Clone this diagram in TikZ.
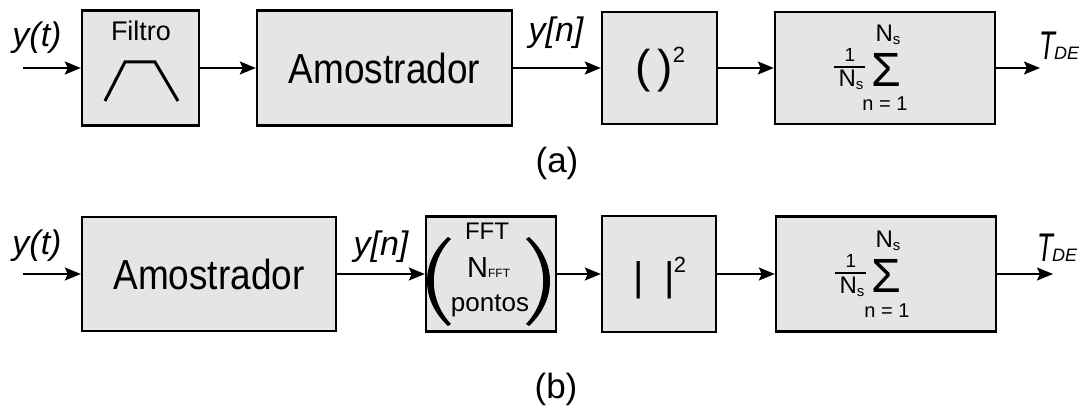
\documentclass[tikz,border=0pt]{standalone}
\usepackage{fontspec}
\setmainfont{Liberation Sans}
\usetikzlibrary{arrows.meta}
\newcommand{\myfs}[1]{\fontsize{#1}{#1}\selectfont}
\newcommand{\myNs}{{\myfs{24}N\raisebox{-3pt}{\myfs{15}s}}}
\begin{document}
\begin{tikzpicture}[x=1pt,y=-1pt,
  blk/.style={draw=black, line width=2.4pt, fill=black!10, inner sep=0pt},
  arr/.style={line width=2pt, -{Stealth[length=16pt,width=13pt,inset=3pt]}},
  txt/.style={inner sep=0pt, anchor=center},
  lbl/.style={inner sep=0pt, anchor=center, font=\myfs{34}\itshape}]
\useasboundingbox[fill=white] (0,0) rectangle (1087,411);

% ---------------- row (a) ----------------
\node[blk, minimum width=117pt, minimum height=115pt] (filt) at (140.5,68) {};
\node[txt, font=\myfs{27}] (filtt) at (141,31) {Filtro};
\draw[line width=3pt] (105,101) -- (125,62) -- (155,62) -- (178,101);

\node[blk, minimum width=255pt, minimum height=115pt, font=\myfs{42}] (amoA) at (384.5,68) {\scalebox{0.88}[1]{Amostrador}};

\node[blk, minimum width=115pt, minimum height=112pt] (sqA) at (659.5,68) {};
\node[txt, font=\myfs{46}] (sqAl) at (643,71) {(};
\node[txt, font=\myfs{46}] (sqAr) at (665,71) {)};
\node[txt, font=\myfs{22}] (sqA2) at (679,55) {2};

\node[blk, minimum width=220pt, minimum height=112pt] (sumA) at (885,68) {};
\node[txt, font=\myfs{19}] (oneA) at (850,55) {1};
\draw[line width=1.8pt] (834,67) -- (865,67);
\node[txt] (nsA) at (851,80) {\myNs};
\node[txt, font=\myfs{48}] (sigA) at (886,70) {Σ};
\node[txt] (upA) at (888,35) {\myNs};
\node[txt, font=\myfs{20}] (lowA) at (885,104) {n = 1};

\coordinate (inA) at (23,68);
\coordinate (outA) at (1040,68);
\draw[arr] (inA) -- (filt.west);
\draw[arr] (filt.east) -- (amoA.west);
\draw[arr] (amoA.east) -- (sqA.west);
\draw[arr] (sqA.east) -- (sumA.west);
\draw[arr] (sumA.east) -- (outA);

\node[lbl] (ytA) at (37,38) {y(t)};
\node[lbl] (ynA) at (556,33) {y[n]};
\node[inner sep=0pt, anchor=base west] (tdeA) at (1039,60) {\myfs{40}\itshape\scalebox{0.65}[1]{T}\kern-1pt{\myfs{18}\itshape DE}};

\node[txt, font=\myfs{35}] (capA) at (557,163) {(a)};

% ---------------- row (b) ----------------
\node[blk, minimum width=254pt, minimum height=114pt, font=\myfs{42}] (amoB) at (209,274) {\scalebox{0.88}[1]{Amostrador}};

\node[blk, minimum width=130pt, minimum height=115pt] (fft) at (491,274) {};
\node[txt, font=\myfs{24}] (fftt) at (487,231) {FFT};
\node[inner sep=0pt, anchor=base west] (nfft) at (467,278) {\myfs{29}N\myfs{12}FFT};
\node[txt, font=\myfs{26}] (pontos) at (490,306) {pontos};
\fill (448,237) .. controls (420,262) and (420,300) .. (448,326) -- (451,324)
      .. controls (428,300) and (428,262) .. (451,239) -- cycle;
\fill (529,237) .. controls (557,262) and (557,300) .. (529,326) -- (526,324)
      .. controls (549,300) and (549,262) .. (526,239) -- cycle;

\node[blk, minimum width=114pt, minimum height=116pt] (absB) at (659,274) {};
\node[txt, font=\myfs{40}] (barl) at (639,280) {|};
\node[txt, font=\myfs{40}] (barr) at (670,280) {|};
\node[txt, font=\myfs{22}] (absB2) at (680,265) {2};

\node[blk, minimum width=220pt, minimum height=115pt] (sumB) at (886,274) {};
\node[txt, font=\myfs{19}] (oneB) at (851,261) {1};
\draw[line width=1.8pt] (835,273) -- (866,273);
\node[txt] (nsB) at (852,287) {\myNs};
\node[txt, font=\myfs{48}] (sigB) at (886,276) {Σ};
\node[txt] (upB) at (888,241) {\myNs};
\node[txt, font=\myfs{20}] (lowB) at (887,311) {n = 1};

\coordinate (inB) at (23,274);
\coordinate (outB) at (1053,274);
\draw[arr] (inB) -- (amoB.west);
\draw[arr] (amoB.east) -- (fft.west);
\draw[arr] (fft.east) -- (absB.west);
\draw[arr] (absB.east) -- (sumB.west);
\draw[arr] (sumB.east) -- (outB);

\node[lbl] (ytB) at (37,246) {y(t)};
\node[lbl] (ynB) at (381,247) {y[n]};
\node[inner sep=0pt, anchor=base west] (tdeB) at (1037,262) {\myfs{40}\itshape\scalebox{0.65}[1]{T}\kern-1pt{\myfs{18}\itshape DE}};

\node[txt, font=\myfs{35}] (capB) at (556,389) {(b)};
\end{tikzpicture}
\end{document}
